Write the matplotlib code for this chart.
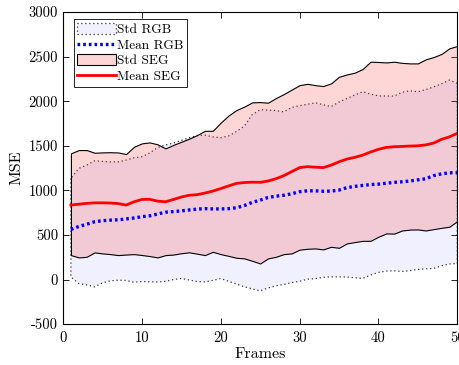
#MSE per frame, mean and std bands for RGB and SEG inputs

import matplotlib
matplotlib.use("Agg")
import matplotlib.pyplot as plt
from matplotlib.patches import Patch
from matplotlib.lines import Line2D
import numpy as np

plt.rcParams['font.family'] = ['cmr10', 'DejaVu Serif']
plt.rcParams['mathtext.fontset'] = 'cm'

#values, frames 1..50
frames = list(range(1, 51))

segUpper = [1415, 1452, 1452, 1422, 1426, 1428, 1425, 1407, 1489, 1527,
            1538, 1516, 1471, 1510, 1545, 1580, 1620, 1668, 1668, 1760,
            1840, 1901, 1940, 1987, 1990, 1983, 2035, 2080, 2130, 2180,
            2195, 2180, 2170, 2200, 2274, 2300, 2320, 2361, 2443, 2440,
            2435, 2443, 2430, 2424, 2424, 2469, 2495, 2530, 2593, 2619]
segLower = [274, 248, 255, 304, 293, 285, 274, 280, 285, 275,
            263, 248, 274, 280, 295, 305, 290, 274, 311, 285,
            265, 244, 237, 210, 180, 237, 255, 285, 293, 335,
            345, 349, 338, 367, 356, 405, 420, 434, 434, 480,
            517, 515, 550, 560, 562, 550, 565, 580, 592, 655]
segMean = [835, 845, 854, 860, 860, 858, 852, 835, 872, 898,
           900, 879, 872, 898, 925, 945, 952, 970, 992, 1020,
           1050, 1078, 1088, 1092, 1090, 1105, 1130, 1165, 1210, 1255,
           1266, 1260, 1255, 1283, 1320, 1351, 1370, 1395, 1430, 1460,
           1482, 1490, 1493, 1497, 1500, 1510, 1530, 1572, 1600, 1639]

rgbUpper = [1134, 1246, 1283, 1332, 1325, 1320, 1320, 1340, 1365, 1377,
            1420, 1480, 1510, 1530, 1560, 1590, 1615, 1620, 1600, 1590,
            1610, 1660, 1720, 1850, 1905, 1900, 1895, 1880, 1930, 1950,
            1965, 1983, 1960, 1940, 1990, 2030, 2070, 2106, 2080, 2060,
            2058, 2058, 2100, 2117, 2106, 2130, 2160, 2195, 2237, 2200]
rgbLower = [30, -45, -60, -82, -37, -15, -7, -10, -30, -22,
            -25, -28, -20, 0, 12, -5, -22, -26, -10, 12,
            -20, -50, -82, -105, -127, -95, -70, -55, -35, -20,
            4, 10, 25, 30, 30, 28, 20, 12, 50, 80,
            95, 98, 90, 100, 113, 120, 125, 154, 175, 180]
rgbMean = [562, 595, 620, 648, 660, 666, 670, 680, 690, 705,
           715, 735, 755, 762, 770, 780, 790, 795, 792, 792,
           795, 805, 830, 865, 890, 920, 935, 945, 962, 985,
           995, 995, 990, 992, 1003, 1030, 1045, 1055, 1065, 1070,
           1080, 1090, 1096, 1105, 1118, 1130, 1165, 1185, 1197, 1198]

xTicks = [0, 10, 20, 30, 40, 50]
yTicks = [-500, 0, 500, 1000, 1500, 2000, 2500, 3000]

rgbFace = '#F0F0FF'
segFace = (1.0, 0.2, 0.2, 0.2)
dotStyle = (0, (0.8, 0.9))
edgeDot = (0, (1, 2.2))

fig = plt.figure(figsize=(4.6, 3.65), dpi=100)
ax = fig.add_axes([0.137, 0.112, 0.857, 0.855])

#std bands as closed polygons (like matlab fill)
ax.fill_between(frames, rgbLower, rgbUpper, facecolor=rgbFace,
                edgecolor='#333333', linestyle=edgeDot, linewidth=0.9, zorder=1)
ax.fill_between(frames, segLower, segUpper, facecolor=segFace,
                edgecolor='black', linewidth=0.8, zorder=2)

ax.plot(frames, rgbMean, color='blue', linestyle=dotStyle, linewidth=2.4, zorder=3)
ax.plot(frames, segMean, color='red', linewidth=2.0, zorder=4)

ax.set_xlim(0, 50)
ax.set_ylim(-500, 3000)
ax.set_xticks(xTicks)
ax.set_xticklabels([str(t) for t in xTicks])
ax.set_yticks(yTicks)
ax.set_yticklabels([str(t) for t in yTicks])
ax.tick_params(direction='in', top=True, right=True, length=4, width=0.6,
               labelsize=10.5)
ax.tick_params(axis='x', pad=5)
for s in ax.spines.values():
    s.set_linewidth(0.8)

ax.set_xlabel("Frames", fontsize=11.5, labelpad=2)
ax.set_ylabel("MSE", fontsize=11.5, labelpad=4)

handles = [Patch(facecolor=rgbFace, edgecolor='#333333', linestyle=edgeDot, linewidth=0.9),
           Line2D([], [], color='blue', linestyle=dotStyle, linewidth=2.4),
           Patch(facecolor=(1.0, 0.84, 0.84), edgecolor='black', linewidth=0.8),
           Line2D([], [], color='red', linewidth=2.0)]
leg = ax.legend(handles, ["Std RGB", "Mean RGB", "Std SEG", "Mean SEG"],
                loc='upper left', bbox_to_anchor=(0.02, 0.985), fontsize=9.6,
                fancybox=False, framealpha=1, edgecolor='black',
                handlelength=2.9, handleheight=0.9, handletextpad=0.1,
                labelspacing=0.2, borderpad=0.25, borderaxespad=0.2)
leg.get_frame().set_linewidth(0.6)

fig.savefig("out.png", dpi=100)
